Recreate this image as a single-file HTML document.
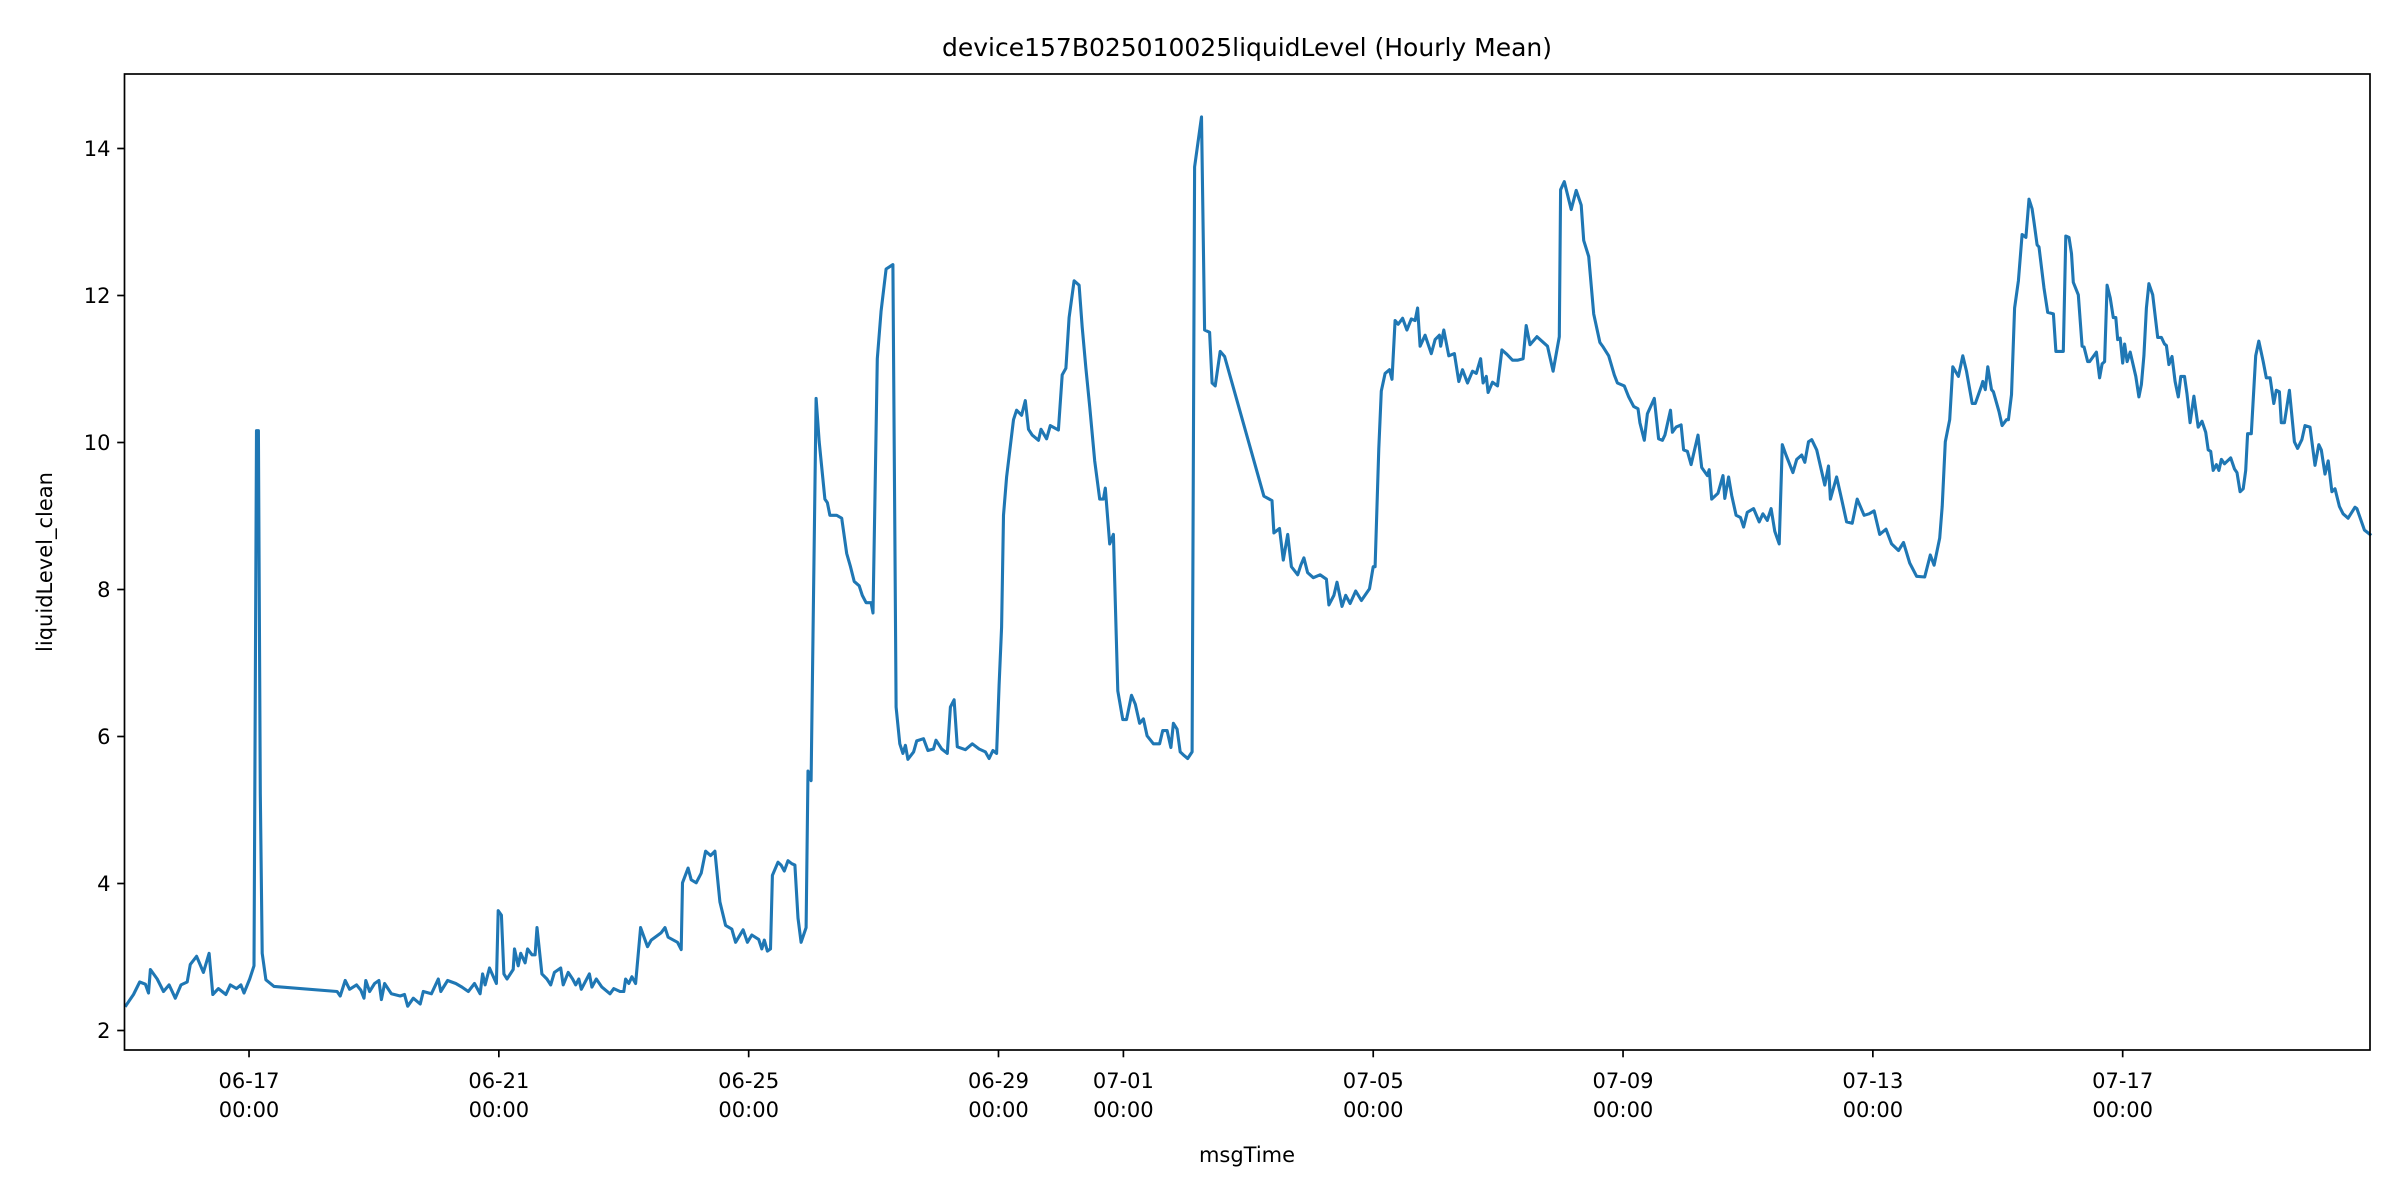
<!DOCTYPE html>
<html><head><meta charset="utf-8">
<style>
html,body{margin:0;padding:0;background:#fff;}
svg{display:block;font-family:"DejaVu Sans","Liberation Sans",sans-serif;}
</style></head>
<body>
<svg id="chart" width="2400" height="1200" viewBox="0 0 2400 1200" xmlns="http://www.w3.org/2000/svg">
<rect x="0" y="0" width="2400" height="1200" fill="#fff"/>
<text x="1247" y="56" font-size="25" text-anchor="middle" fill="#000">device157B025010025liquidLevel (Hourly Mean)</text>
<text x="1247" y="1162" font-size="21" text-anchor="middle" fill="#000">msgTime</text>
<text x="0" y="0" font-size="21" text-anchor="middle" fill="#000" transform="translate(52,562) rotate(-90)">liquidLevel_clean</text>
<g id="yticks"></g>
<g id="xticks"></g>
<g id="series"></g>
<rect x="124.5" y="74" width="2245.5" height="976" fill="none" stroke="#000" stroke-width="1.7"/>
</svg>
<script>
// days offset from 06-17 00:00
const dayOffset = [-1.97,-1.85,-1.75,-1.66,-1.61,-1.58,-1.47,-1.37,-1.28,-1.18,-1.09,-0.99,-0.94,-0.84,-0.73,-0.64,-0.58,-0.49,-0.37,-0.30,-0.20,-0.13,-0.08,0.01,0.08,0.12,0.15,0.18,0.21,0.27,0.40,1.41,1.46,1.54,1.61,1.72,1.79,1.84,1.87,1.93,2.01,2.08,2.12,2.17,2.28,2.42,2.49,2.54,2.63,2.74,2.79,2.92,3.03,3.07,3.18,3.31,3.41,3.51,3.61,3.70,3.74,3.78,3.85,3.96,3.99,4.04,4.08,4.13,4.23,4.25,4.31,4.35,4.42,4.46,4.53,4.58,4.61,4.69,4.77,4.83,4.89,4.99,5.03,5.11,5.18,5.23,5.28,5.32,5.45,5.49,5.56,5.65,5.78,5.84,5.94,6.00,6.03,6.08,6.13,6.19,6.27,6.38,6.44,6.60,6.66,6.71,6.86,6.92,6.94,7.03,7.08,7.16,7.24,7.31,7.39,7.46,7.54,
7.63,7.73,7.79,7.91,7.98,8.05,8.16,8.21,8.25,8.30,8.35,8.38,8.47,8.52,8.57,8.63,8.69,8.74,8.79,8.84,8.92,8.95,9.00,9.08,9.13,9.22,9.26,9.30,9.41,9.49,9.57,9.63,9.69,9.77,9.82,9.88,9.96,9.99,10.06,10.12,10.20,10.31,10.36,10.42,10.47,10.51,10.55,10.64,10.69,10.80,10.87,10.96,11.00,11.09,11.18,11.23,11.29,11.34,11.47,11.58,11.69,11.79,11.85,11.91,11.97,12.01,12.05,12.08,12.13,12.24,12.29,12.37,12.43,12.48,12.54,12.64,12.68,12.77,12.83,12.96,13.02,13.08,13.13,13.21,13.29,13.34,13.40,13.46,13.54,13.62,13.68,13.71,13.78,13.84,13.91,13.99,14.05,14.13,14.19,14.26,14.32,14.38,14.48,14.58,14.63,14.70,14.76,14.80,14.86,14.91,14.96,15.03,15.10,15.14,15.25,15.30,15.38,15.42,15.47,15.55,15.62,16.25,16.38,16.41,16.50,16.56,16.63,16.69,16.79,16.84,16.89,16.95,17.04,17.15,
17.25,17.29,17.37,17.42,17.50,17.56,17.63,17.72,17.81,17.94,18.00,18.03,18.09,18.13,18.19,18.26,18.30,18.35,18.40,18.47,18.54,18.61,18.67,18.71,18.75,18.83,18.93,18.99,19.06,19.08,19.13,19.21,19.30,19.37,19.43,19.51,19.59,19.65,19.72,19.76,19.81,19.84,19.91,19.99,20.06,20.14,20.23,20.31,20.40,20.45,20.51,20.62,20.79,20.88,20.98,21.00,21.06,21.17,21.25,21.33,21.37,21.45,21.53,21.63,21.68,21.77,21.86,21.91,22.02,22.09,22.17,22.24,22.27,22.34,22.39,22.50,22.57,22.63,22.67,22.76,22.79,22.85,22.93,22.97,23.03,23.09,23.20,23.26,23.35,23.38,23.42,23.52,23.60,23.63,23.69,23.74,23.81,23.88,23.93,23.99,24.09,24.18,24.24,24.31,24.37,24.43,24.50,24.55,24.61,24.72,24.78,24.86,24.91,24.97,25.02,25.10,25.23,25.29,25.32,25.42,25.50,25.58,25.67,25.75,25.86,25.94,26.02,26.11,26.21,26.30,26.41,26.49,26.59,26.70,
26.83,26.92,26.98,27.07,27.11,27.16,27.23,27.28,27.37,27.44,27.50,27.59,27.64,27.74,27.76,27.80,27.84,27.90,27.93,28.02,28.07,28.14,28.17,28.22,28.27,28.33,28.39,28.45,28.50,28.55,28.58,28.63,28.66,28.74,28.80,28.89,28.93,29.05,29.09,29.14,29.18,29.21,29.29,29.35,29.38,29.44,29.47,29.58,29.63,29.67,29.71,29.75,29.80,29.85,29.89,29.92,29.96,30.00,30.03,30.07,30.12,30.21,30.26,30.30,30.34,30.38,30.42,30.48,30.56,30.62,30.67,30.70,30.74,30.79,30.84,30.89,30.93,30.99,31.03,31.08,31.14,31.21,31.27,31.33,31.37,31.41,31.45,31.50,31.54,31.58,31.63,31.73,31.79,31.83,31.88,31.93,31.97,32.00,32.06,32.13,32.18,32.25,32.30,32.36,32.42,32.46,32.51,32.54,32.59,32.67,32.75,32.80,32.87,32.92,33.00,33.08,33.14,33.18,33.24,33.29,33.35,33.40,33.47,33.53,33.61,33.72,33.75,33.87,33.96];
const levelValues = [2.34,2.49,2.66,2.63,2.51,2.83,2.70,2.53,2.62,2.44,2.62,2.66,2.90,3.01,2.79,3.05,2.49,2.57,2.49,2.62,2.57,2.62,2.51,2.70,2.88,10.16,10.16,5.23,3.05,2.69,2.60,2.53,2.47,2.68,2.56,2.62,2.55,2.44,2.68,2.53,2.64,2.68,2.42,2.64,2.50,2.47,2.49,2.33,2.44,2.36,2.53,2.50,2.70,2.53,2.68,2.64,2.59,2.53,2.64,2.50,2.77,2.62,2.85,2.64,3.63,3.57,2.77,2.70,2.83,3.11,2.88,3.05,2.92,3.11,3.03,3.03,3.40,2.77,2.70,2.62,2.79,2.85,2.62,2.79,2.70,2.62,2.70,2.56,2.77,2.59,2.70,2.59,2.50,2.57,2.53,2.53,2.70,2.64,2.73,2.64,3.40,3.14,3.23,3.33,3.40,3.27,3.20,3.10,4.01,4.21,4.05,4.01,4.14,4.44,4.38,4.44,3.75,
3.43,3.38,3.20,3.37,3.20,3.30,3.24,3.11,3.23,3.08,3.11,4.11,4.29,4.25,4.17,4.31,4.27,4.25,3.53,3.20,3.40,5.53,5.40,10.60,10.01,9.23,9.18,9.01,9.01,8.97,8.49,8.31,8.11,8.05,7.92,7.82,7.82,7.68,11.14,11.79,12.36,12.42,6.40,5.90,5.77,5.88,5.69,5.79,5.94,5.97,5.81,5.83,5.95,5.83,5.77,6.40,6.50,5.86,5.82,5.90,5.83,5.79,5.70,5.81,5.77,6.70,7.49,9.01,9.53,10.31,10.44,10.37,10.57,10.18,10.10,10.03,10.18,10.05,10.23,10.17,10.92,11.01,11.70,12.20,12.14,11.57,11.01,10.49,9.75,9.23,9.23,9.38,8.62,8.75,6.62,6.23,6.23,6.56,6.44,6.18,6.24,6.01,5.90,5.90,6.08,6.08,5.85,6.18,6.10,5.79,5.75,5.70,5.79,13.75,14.43,11.53,11.50,10.81,10.77,11.24,11.17,9.27,9.21,8.77,8.83,8.40,8.75,8.31,8.20,8.33,8.43,8.23,8.16,8.20,
8.14,7.79,7.92,8.10,7.77,7.92,7.81,7.98,7.85,8.01,8.31,8.31,9.92,10.70,10.94,10.99,10.86,11.66,11.61,11.69,11.53,11.68,11.66,11.83,11.31,11.46,11.21,11.40,11.46,11.31,11.53,11.18,11.21,10.83,10.99,10.81,10.97,10.94,11.14,10.81,10.90,10.68,10.82,10.77,11.26,11.20,11.12,11.12,11.14,11.59,11.33,11.44,11.31,10.97,11.44,13.44,13.55,13.17,13.43,13.23,12.75,12.53,11.75,11.36,11.30,11.18,10.92,10.81,10.77,10.62,10.49,10.46,10.27,10.03,10.39,10.60,10.05,10.03,10.10,10.44,10.14,10.21,10.24,9.90,9.88,9.70,10.10,9.66,9.55,9.63,9.23,9.31,9.55,9.24,9.53,9.28,9.01,8.98,8.85,9.05,9.10,8.92,9.03,8.94,9.10,8.79,8.62,9.97,9.83,9.59,9.77,9.83,9.73,10.01,10.04,9.90,9.42,9.68,9.23,9.53,9.23,8.92,8.90,9.23,9.01,9.03,9.07,8.75,8.82,8.62,8.53,8.64,8.36,8.18,8.17,
8.47,8.33,8.70,9.13,10.01,10.31,11.03,10.90,11.18,10.97,10.53,10.53,10.77,10.83,10.72,11.03,10.72,10.69,10.42,10.23,10.31,10.31,10.65,11.83,12.20,12.83,12.79,13.31,13.18,13.00,12.69,12.66,12.10,11.77,11.75,11.24,11.24,12.81,12.79,12.57,12.18,12.01,11.31,11.30,11.10,11.10,11.23,10.88,11.07,11.10,12.14,11.97,11.70,11.70,11.40,11.42,11.08,11.34,11.10,11.23,10.90,10.62,10.79,11.18,11.83,12.16,12.01,11.43,11.43,11.34,11.32,11.06,11.17,10.83,10.62,10.90,10.90,10.66,10.27,10.63,10.21,10.29,10.14,9.90,9.88,9.62,9.70,9.62,9.77,9.71,9.79,9.64,9.59,9.33,9.37,9.62,10.12,10.12,11.18,11.38,11.10,10.88,10.88,10.53,10.71,10.69,10.27,10.27,10.71,10.01,9.92,10.04,10.23,10.21,9.69,9.97,9.90,9.57,9.75,9.33,9.37,9.13,9.03,8.97,9.12,9.10,8.81,8.75,8.58];
const yTickValues = [2,4,6,8,10,12,14];
const xTickDays = [0,4,8,12,14,18,22,26,30];
const xTickLabels = ["06-17","06-21","06-25","06-29","07-01","07-05","07-09","07-13","07-17"];

const NS = "http://www.w3.org/2000/svg";
const X0 = 124.5, X1 = 2370, D0 = -1.994, D1 = 33.96;
const xScale = d => X0 + (d - D0) / (D1 - D0) * (X1 - X0);
const yScale = v => 1030.5 - (v - 2) * 73.5;
function mk(tag, attrs, parent){ const e=document.createElementNS(NS,tag); for(const k in attrs) e.setAttribute(k,attrs[k]); parent.appendChild(e); return e; }

const yg = document.getElementById('yticks');
yTickValues.forEach(v=>{
  const y = yScale(v);
  const t = mk('line',{x1:X0-7.3,x2:X0,y1:y,y2:y,stroke:'#000','stroke-width':1.7},yg);
  
  
  const l = mk('text',{x:X0-14,y:y+7.5,'font-size':21,'text-anchor':'end',fill:'#000'},yg);
  l.textContent = String(v);
  
  
});
const xg = document.getElementById('xticks');
xTickDays.forEach((d,i)=>{
  const x = xScale(d);
  const t = mk('line',{x1:x,x2:x,y1:1050,y2:1057.3,stroke:'#000','stroke-width':1.7},xg);
  
  
  const l1 = mk('text',{x:x,y:1088,'font-size':21,'text-anchor':'middle',fill:'#000'},xg);
  l1.textContent = xTickLabels[i];
  
  
  const l2 = mk('text',{x:x,y:1117,'font-size':21,'text-anchor':'middle',fill:'#000'},xg);
  l2.textContent = "00:00";
  
  
});
const sg = document.getElementById('series');
const n = Math.min(dayOffset.length, levelValues.length);
let dstr = '';
for(let i=0;i<n;i++){ dstr += (i?'L':'M') + xScale(dayOffset[i]).toFixed(1) + ',' + yScale(levelValues[i]).toFixed(1); }
const p = mk('path',{d:dstr,fill:'none',stroke:'#1f77b4','stroke-width':3.1,'stroke-linejoin':'round','stroke-linecap':'square'},sg);


</script>
</body></html>
